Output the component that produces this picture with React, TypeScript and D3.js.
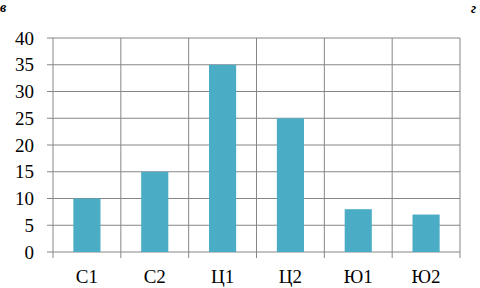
import React from "react";
import * as d3 from "d3";

const categories = ["С1", "С2", "Ц1", "Ц2", "Ю1", "Ю2"];
const values = [10, 15, 35, 25, 8, 7];
const yTicks = [0, 5, 10, 15, 20, 25, 30, 35, 40];

export default function App() {
  const W = 480, H = 288;
  const left = 53, right = 460, top = 38, bottom = 252;
  const x = d3.scaleBand<string>().domain(categories).range([left, right]).paddingInner(0).paddingOuter(0);
  const y = d3.scaleLinear().domain([0, 40]).range([bottom, top]);
  const bw = x.bandwidth() * 0.4;
  const grid = "#868686";
  const font = "Liberation Serif, Times New Roman, serif";
  return (
    <svg width={W} height={H} style={{ position: "absolute", left: 0, top: 0, background: "#fff" }}>
      {yTicks.map((t) => (
        <g key={t}>
          <line x1={left - 6} x2={right} y1={y(t)} y2={y(t)} stroke={grid} strokeWidth={1} />
          <text x={34} y={y(t)} dy="0.35em" textAnchor="end" style={{ fontFamily: font }} fontSize={19} fill="#000">{t}</text>
        </g>
      ))}
      {categories.map((c) => (
        <line key={"v" + c} x1={x(c)!} x2={x(c)!} y1={top} y2={bottom + 6} stroke={grid} strokeWidth={1} />
      ))}
      <line x1={right} x2={right} y1={top} y2={bottom + 6} stroke={grid} strokeWidth={1} />
      {categories.map((c, i) => (
        <rect key={"b" + c} x={x(c)! + (x.bandwidth() - bw) / 2} y={y(values[i])} width={bw} height={bottom - y(values[i])} fill="#4BACC6" />
      ))}
      {categories.map((c) => (
        <text key={"t" + c} x={x(c)! + x.bandwidth() / 2} y={283} textAnchor="middle" style={{ fontFamily: font }} fontSize={19} fill="#000">{c}</text>
      ))}
      <text x={0} y={12} style={{ fontFamily: font }} fontSize={14} fontWeight="bold" fontStyle="italic" fill="#000">в</text>
      <text x={471} y={13} style={{ fontFamily: font }} fontSize={14} fontWeight="bold" fontStyle="italic" fill="#000">г</text>
    </svg>
  );
}
